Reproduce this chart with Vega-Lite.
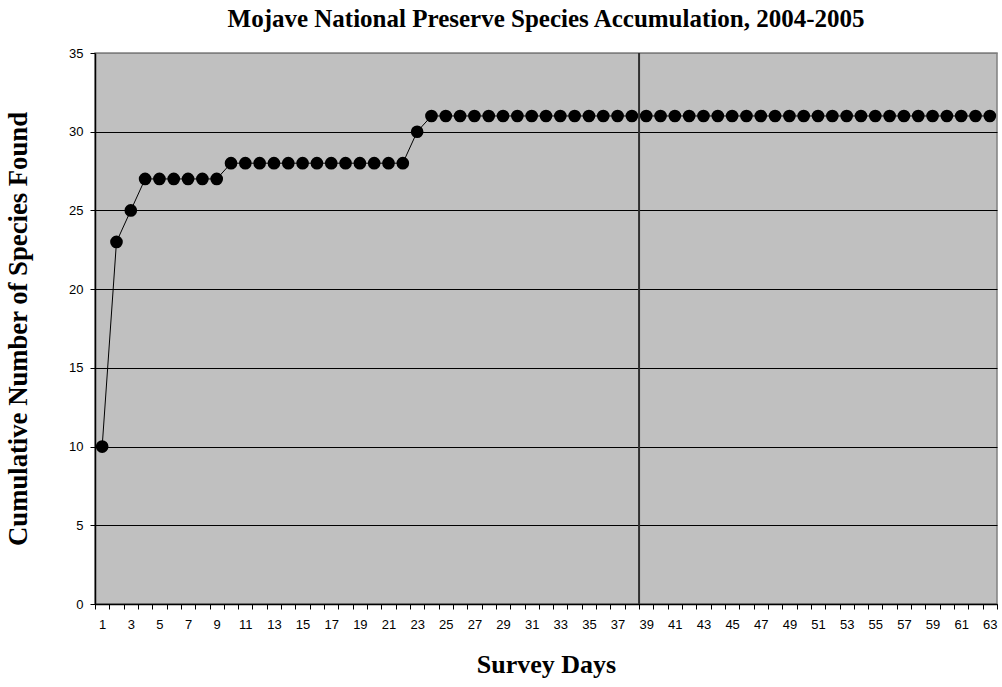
{
  "$schema": "https://vega.github.io/schema/vega-lite/v6.json",
  "width": 902,
  "height": 551,
  "autosize": {"type": "none"},
  "padding": {"left": 95, "top": 53, "right": 5, "bottom": 83},
  "background": "white",
  "title": {
    "text": "Mojave National Preserve Species Accumulation, 2004-2005",
    "font": "Liberation Serif",
    "fontSize": 25,
    "fontWeight": "bold",
    "color": "black",
    "anchor": "middle",
    "offset": 15
  },
  "config": {
    "view": {"fill": "#c0c0c0", "stroke": "#808080", "strokeWidth": 1.5},
    "axis": {
      "labelFont": "Liberation Sans",
      "labelFontSize": 13,
      "labelColor": "black",
      "titleFont": "Liberation Serif",
      "titleFontSize": 26,
      "titleFontWeight": "bold",
      "titleColor": "black",
      "domainColor": "black",
      "domainWidth": 1.5,
      "tickColor": "black",
      "tickWidth": 1,
      "tickSize": 5
    }
  },
  "layer": [
    {
      "data": {
        "values": [
          {"day": 1, "species": 10}, {"day": 2, "species": 23}, {"day": 3, "species": 25},
          {"day": 4, "species": 27}, {"day": 5, "species": 27}, {"day": 6, "species": 27},
          {"day": 7, "species": 27}, {"day": 8, "species": 27}, {"day": 9, "species": 27},
          {"day": 10, "species": 28}, {"day": 11, "species": 28}, {"day": 12, "species": 28},
          {"day": 13, "species": 28}, {"day": 14, "species": 28}, {"day": 15, "species": 28},
          {"day": 16, "species": 28}, {"day": 17, "species": 28}, {"day": 18, "species": 28},
          {"day": 19, "species": 28}, {"day": 20, "species": 28}, {"day": 21, "species": 28},
          {"day": 22, "species": 28}, {"day": 23, "species": 30}, {"day": 24, "species": 31},
          {"day": 25, "species": 31}, {"day": 26, "species": 31}, {"day": 27, "species": 31},
          {"day": 28, "species": 31}, {"day": 29, "species": 31}, {"day": 30, "species": 31},
          {"day": 31, "species": 31}, {"day": 32, "species": 31}, {"day": 33, "species": 31},
          {"day": 34, "species": 31}, {"day": 35, "species": 31}, {"day": 36, "species": 31},
          {"day": 37, "species": 31}, {"day": 38, "species": 31}, {"day": 39, "species": 31},
          {"day": 40, "species": 31}, {"day": 41, "species": 31}, {"day": 42, "species": 31},
          {"day": 43, "species": 31}, {"day": 44, "species": 31}, {"day": 45, "species": 31},
          {"day": 46, "species": 31}, {"day": 47, "species": 31}, {"day": 48, "species": 31},
          {"day": 49, "species": 31}, {"day": 50, "species": 31}, {"day": 51, "species": 31},
          {"day": 52, "species": 31}, {"day": 53, "species": 31}, {"day": 54, "species": 31},
          {"day": 55, "species": 31}, {"day": 56, "species": 31}, {"day": 57, "species": 31},
          {"day": 58, "species": 31}, {"day": 59, "species": 31}, {"day": 60, "species": 31},
          {"day": 61, "species": 31}, {"day": 62, "species": 31}, {"day": 63, "species": 31}
        ]
      },
      "encoding": {
        "x": {
          "field": "day",
          "type": "ordinal",
          "sort": "ascending",
          "scale": {"type": "band", "paddingInner": 0, "paddingOuter": 0},
          "axis": {
            "title": "Survey Days",
            "titlePadding": 20,
            "labelAngle": 0,
            "tickBand": "extent",
            "labelPadding": 9,
            "labelExpr": "datum.value % 2 == 1 ? datum.label : ''",
            "grid": false
          }
        },
        "y": {
          "field": "species",
          "type": "quantitative",
          "scale": {"domain": [0, 35], "nice": false},
          "axis": {
            "title": "Cumulative Number of Species Found",
            "titlePadding": 36,
            "titleFontSize": 26.7,
            "values": [0, 5, 10, 15, 20, 25, 30, 35],
            "labelPadding": 7,
            "grid": true,
            "gridColor": {"condition": {"test": "datum.value == 35", "value": "#808080"}, "value": "black"},
            "gridWidth": 1,
            "gridOpacity": 1
          }
        }
      },
      "layer": [
        {"mark": {"type": "line", "color": "black", "strokeWidth": 1}},
        {"mark": {"type": "point", "filled": true, "color": "black", "opacity": 1, "size": 160, "shape": "circle"}}
      ]
    },
    {
      "data": {"values": [{"day": 39}]},
      "mark": {"type": "rule", "color": "#303030", "strokeWidth": 2},
      "encoding": {
        "x": {"field": "day", "type": "ordinal", "bandPosition": 0}
      }
    }
  ]
}
